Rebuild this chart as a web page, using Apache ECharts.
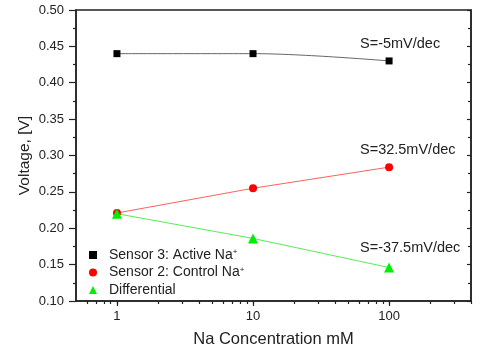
<!DOCTYPE html>
<html>
<head>
<meta charset="utf-8">
<script src="https://cdn.jsdelivr.net/npm/echarts@6/dist/echarts.min.js"></script>
<style>
html,body{margin:0;padding:0;background:#fff;}
#chart{width:484px;height:350px;}
</style>
</head>
<body>
<div id="chart"></div>
<script>
// ---- data ----
const concentrations = [1, 10, 100];
const sensor3 = [0.440, 0.440, 0.430];
const sensor2 = [0.221, 0.255, 0.284];
const differential = [0.220, 0.186, 0.146];
const seriesNames = ['Sensor 3: Active Na', 'Sensor 2: Control Na', 'Differential'];
const slopeTexts = ['S=-5mV/dec', 'S=32.5mV/dec', 'S=-37.5mV/dec'];
const xMajorTicks = [1, 10, 100];
const xMinorTicks = [0.6, 0.7, 0.8, 0.9, 2, 3, 4, 5, 6, 7, 8, 9, 20, 30, 40, 50, 60, 70, 80, 90, 200, 300, 400];

const font = 'Liberation Sans, Arial, sans-serif';
const txt = '#222';

function pairs(ys) { return concentrations.map((x, i) => [x, ys[i]]); }

const chart = echarts.init(document.getElementById('chart'));
chart.setOption({
  animation: false,
  backgroundColor: '#fff',
  textStyle: { fontFamily: font },
  grid: { left: 76, top: 10, right: 13, bottom: 49, show: true, borderColor: '#222', borderWidth: 1.5,
          containLabel: false, outerBoundsMode: 'none' },
  xAxis: [{
    type: 'log', logBase: 10, min: 0.5, max: 400, position: 'bottom',
    name: 'Na Concentration mM', nameLocation: 'middle', nameGap: 30, nameMoveOverlap: false,
    nameTextStyle: { fontSize: 16.5, color: txt, fontFamily: font },
    axisLine: { show: true, lineStyle: { color: '#222', width: 1.5 } },
    axisTick: { show: true, inside: false, length: 3, customValues: xMinorTicks.concat(xMajorTicks), lineStyle: { color: '#222', width: 1.2 } },
    axisLabel: { customValues: xMajorTicks, fontSize: 13, color: txt, margin: 9, fontFamily: font },
    splitLine: { show: false }, minorTick: { show: false }
  }, {
    type: 'log', logBase: 10, min: 0.5, max: 400, position: 'bottom', offset: 0,
    axisLine: { show: false },
    axisTick: { show: true, inside: false, length: 5, customValues: xMajorTicks, lineStyle: { color: '#222', width: 1.2 } },
    axisLabel: { show: false },
    splitLine: { show: false }
  }],
  yAxis: [{
    type: 'value', min: 0.1, max: 0.5, interval: 0.05, position: 'left',
    name: 'Voltage, [V]', nameLocation: 'middle', nameGap: 43, nameMoveOverlap: false,
    nameTextStyle: { fontSize: 15.5, color: txt, fontFamily: font },
    axisLine: { show: true, lineStyle: { color: '#222', width: 1.5 } },
    axisTick: { show: true, inside: false, length: 7, lineStyle: { color: '#222', width: 1.2 } },
    minorTick: { show: true, splitNumber: 2, length: 3, lineStyle: { color: '#222', width: 1.2 } },
    axisLabel: { fontSize: 13, color: txt, margin: 12, formatter: v => v.toFixed(2), fontFamily: font },
    splitLine: { show: false }
  }, {
    type: 'value', min: 0.1, max: 0.5, interval: 0.05, position: 'right',
    axisLine: { show: true, lineStyle: { color: '#222', width: 1.5 } },
    axisTick: { show: true, inside: true, length: 4, lineStyle: { color: '#222', width: 1.2 } },
    minorTick: { show: true, splitNumber: 2, length: 3, lineStyle: { color: '#222', width: 1.2 } },
    axisLabel: { show: false },
    splitLine: { show: false }
  }],
  legend: {
    orient: 'vertical', left: 84, top: 243, itemWidth: 8, itemHeight: 8, itemGap: 3.5,
    data: [
      { name: seriesNames[0], icon: 'rect', itemStyle: { color: '#000' } },
      { name: seriesNames[1], icon: 'circle', itemStyle: { color: '#ff0000' } },
      { name: seriesNames[2], icon: 'triangle', itemStyle: { color: '#00ee00' } }
    ],
    formatter: function (name) {
      return name === seriesNames[2] ? name : name + '{sup|+}';
    },
    textStyle: {
      fontSize: 14, color: txt, fontFamily: font, lineHeight: 14, padding: [0, 0, 0, 7],
      rich: { sup: { fontSize: 8, verticalAlign: 'top', lineHeight: 14, padding: [0, 0, 6, 0], color: txt } }
    }
  },
  series: [{
    name: seriesNames[0], type: 'line', xAxisIndex: 0, yAxisIndex: 0,
    data: pairs(sensor3), smooth: 0.35, symbol: 'rect', symbolSize: 7,
    itemStyle: { color: '#000' }, lineStyle: { color: '#666', width: 1 }
  }, {
    name: seriesNames[1], type: 'line', xAxisIndex: 0, yAxisIndex: 0,
    data: pairs(sensor2), smooth: false, symbol: 'circle', symbolSize: 8,
    itemStyle: { color: '#ff0000' }, lineStyle: { color: '#ff6060', width: 1 }
  }, {
    name: seriesNames[2], type: 'line', xAxisIndex: 0, yAxisIndex: 0,
    data: pairs(differential), smooth: false, symbol: 'triangle', symbolSize: 10,
    itemStyle: { color: '#00ee00' }, lineStyle: { color: '#55ee55', width: 1 }
  }],
  graphic: [
    { type: 'text', left: 360, top: 36, style: { text: slopeTexts[0], fontSize: 14.5, fill: txt, fontFamily: font } },
    { type: 'text', left: 360, top: 142, style: { text: slopeTexts[1], fontSize: 14.5, fill: txt, fontFamily: font } },
    { type: 'text', left: 360, top: 240, style: { text: slopeTexts[2], fontSize: 14.5, fill: txt, fontFamily: font } }
  ]
});
</script>
</body>
</html>
